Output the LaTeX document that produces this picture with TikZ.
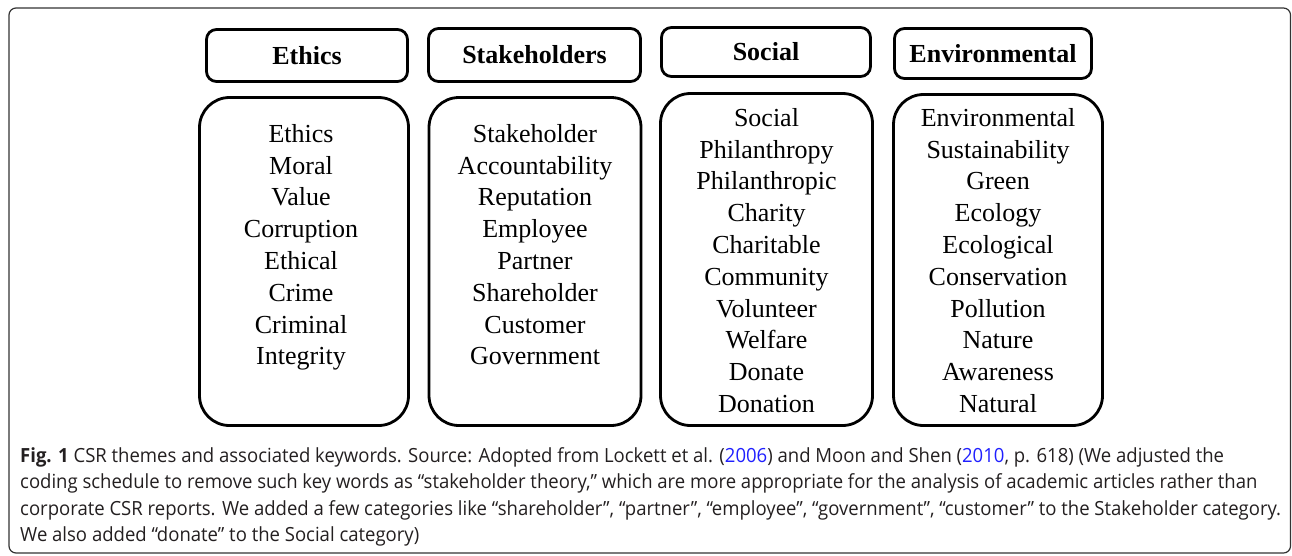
\documentclass[tikz,border=0pt]{standalone}
\usepackage{fontspec}
\setmainfont{Liberation Serif}
\newfontfamily\capfont[FakeStretch=0.95]{Open Sans}
\usetikzlibrary{positioning}
\definecolor{captext}{HTML}{231F20}
\definecolor{linkblue}{HTML}{1F1FFF}
\definecolor{framegray}{HTML}{333333}

\begin{document}
\begin{tikzpicture}[x=1pt,y=-1pt,
    headbox/.style={draw, line width=2.8pt, rounded corners=10pt, inner sep=0pt,
        font=\fontsize{26}{30}\selectfont\bfseries},
    bodybox/.style={draw, line width=2.8pt, rounded corners=30pt, inner sep=0pt},
    wordlist/.style={inner sep=0pt, align=center, anchor=north,
        font=\fontsize{26}{31.8}\selectfont},
    caption/.style={inner sep=0pt, align=left, anchor=base west, text=captext,
        font=\capfont\fontsize{19.5}{26.5}\selectfont}]
    \useasboundingbox (0,0) rectangle (1292,555);
    \draw[framegray, line width=1.2pt, rounded corners=7pt]
        (9,8) rectangle (1290.5,553);

    \node[headbox, minimum width=201pt, minimum height=52pt] (ethicshead) at (307,55.5) {Ethics};
    \node[headbox, minimum width=212pt, minimum height=53pt] (stakehead) at (534.5,55) {Stakeholders};
    \node[headbox, minimum width=209pt, minimum height=49pt] (socialhead) at (766,52) {Social};
    \node[headbox, minimum width=197pt, minimum height=50pt] (envhead) at (993,53.5) {Environmental};

    \node[bodybox, minimum width=209pt, minimum height=328pt] (ethicsbody) at (304,261.5) {};
    \node[bodybox, minimum width=212pt, minimum height=328pt] (stakebody) at (535,261.5) {};
    \node[bodybox, minimum width=212pt, minimum height=332pt] (socialbody) at (766.5,259.5) {};
    \node[bodybox, minimum width=209pt, minimum height=331pt] (envbody) at (998,260) {};

    \node[wordlist, below=28pt of ethicsbody.north, xshift=-3pt] (ethicswords)
        {Ethics\\Moral\\Value\\Corruption\\Ethical\\Crime\\Criminal\\Integrity};
    \node[wordlist, below=28pt of stakebody.north] (stakewords)
        {Stakeholder\\Accountability\\Reputation\\Employee\\Partner\\Shareholder\\Customer\\Government};
    \node[wordlist, below=16pt of socialbody.north] (socialwords)
        {Social\\Philanthropy\\Philanthropic\\Charity\\Charitable\\Community\\Volunteer\\Welfare\\Donate\\Donation};
    \node[wordlist, below=15pt of envbody.north] (envwords)
        {Environmental\\Sustainability\\Green\\Ecology\\Ecological\\Conservation\\Pollution\\Nature\\Awareness\\Natural};

    \node[caption] (figcaption) at (20,541.5)
        {\textbf{Fig. 1} CSR themes and associated keywords. Source: Adopted from Lockett et al. (\textcolor{linkblue}{2006}) and Moon and Shen (\textcolor{linkblue}{2010}, p. 618) (We adjusted the\\
        coding schedule to remove such key words as “stakeholder theory,” which are more appropriate for the analysis of academic articles rather than\\
        corporate CSR reports. We added a few categories like “shareholder”, “partner”, “employee”, “government”, “customer” to the Stakeholder category.\\
        We also added “donate” to the Social category)};
\end{tikzpicture}
\end{document}
